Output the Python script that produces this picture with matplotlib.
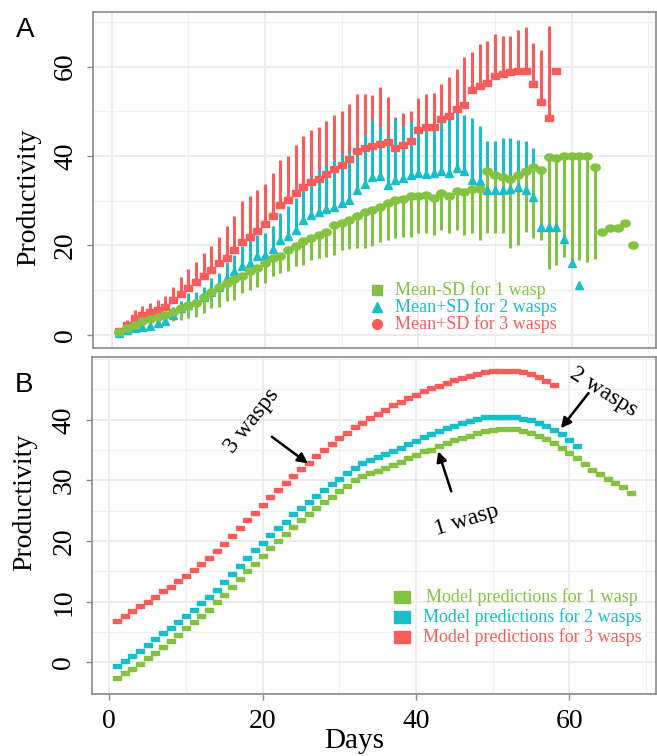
import matplotlib
matplotlib.use("Agg")
import matplotlib.pyplot as plt
import numpy as np
from matplotlib.lines import Line2D
from matplotlib.ticker import MultipleLocator

plt.rcParams['font.family'] = ['Liberation Serif', 'DejaVu Serif']

RED = '#FA5C5C'
CYAN = '#19BFC8'
GREEN = '#83C341'

# --- panel A: observed productivity, mean with a one-sided SD bar ---
days_3 = np.arange(1, 59)
mean_3 = [0.9, 2.2, 3.7, 4.5, 5.1, 5.6, 6.3, 7.8, 9.1, 10.4,
          11.9, 13.2, 14.6, 16.0, 17.3, 18.9, 20.7, 21.9, 23.2, 24.9,
          26.7, 29.0, 30.1, 31.7, 33.1, 34.2, 34.9, 36.1, 37.2, 38.0,
          39.3, 41.2, 41.8, 42.2, 42.8, 43.1, 41.9, 42.5, 43.3, 45.9,
          46.6, 46.6, 48.4, 48.9, 50.5, 51.5, 54.7, 55.7, 56.3, 58.0,
          58.4, 58.7, 59.0, 59.0, 56.1, 52.2, 48.5, 59.1]
upper_3 = [1.5, 3.4, 5.6, 6.5, 7.1, 7.8, 8.6, 10.8, 12.9, 14.7,
           16.4, 18.4, 19.8, 22.0, 24.3, 26.5, 29.9, 31.1, 32.5, 33.7,
           36.3, 39.2, 40.1, 42.4, 44.4, 45.9, 46.6, 47.8, 49.3, 50.1,
           51.7, 53.9, 54.0, 53.7, 55.5, 53.2, 48.7, 49.6, 50.0, 53.0,
           54.0, 54.1, 56.2, 57.6, 59.5, 62.2, 63.2, 65.0, 65.7, 67.2,
           66.8, 66.8, 68.3, 68.9, 65.3, 63.7, 69.2, 59.1]

days_2 = np.arange(1, 62)
mean_2 = [0.4, 1.1, 1.5, 1.7, 2.1, 2.6, 3.2, 4.5, 6.0, 6.7,
          7.5, 8.4, 9.6, 10.8, 12.8, 14.2, 15.3, 16.0, 17.7, 17.9,
          19.3, 21.3, 22.2, 23.5, 25.7, 26.9, 27.5, 28.1, 28.6, 29.6,
          30.1, 32.5, 33.8, 35.4, 35.6, 33.6, 34.7, 35.1, 35.8, 36.2,
          36.0, 36.3, 36.6, 36.2, 37.3, 36.6, 34.7, 34.5, 32.5, 32.5,
          32.5, 32.7, 33.0, 32.4, 30.9, 24.1, 24.1, 24.1, 21.5, 16.0,
          11.2]
upper_2 = [0.8, 1.5, 2.6, 3.2, 3.7, 4.3, 5.4, 6.3, 7.5, 9.3,
           9.7, 10.8, 12.7, 13.8, 16.4, 17.9, 19.8, 21.3, 22.4, 22.8,
           24.3, 27.2, 28.9, 30.7, 33.2, 35.4, 36.9, 37.9, 39.2, 40.5,
           41.0, 42.2, 44.8, 48.1, 46.6, 44.8, 48.3, 46.8, 47.8, 45.5,
           46.5, 46.8, 48.7, 48.9, 50.7, 49.3, 48.5, 46.8, 43.3, 43.3,
           44.0, 44.0, 43.5, 43.3, 41.8, 24.1, 24.1, 24.1, 21.5, 16.0,
           11.2]

days_1 = np.arange(1, 69)
mean_1 = [0.7, 1.5, 2.2, 3.0, 3.5, 4.1, 4.5, 5.2, 6.0, 6.7,
          7.2, 8.4, 9.6, 10.7, 11.6, 12.5, 13.2, 14.2, 14.9, 16.0,
          17.2, 17.7, 19.0, 19.8, 21.0, 21.6, 22.4, 23.1, 24.5, 25.0,
          25.7, 26.6, 27.5, 28.0, 28.7, 29.6, 30.2, 30.4, 31.0, 31.0,
          31.3, 30.6, 31.7, 31.1, 32.2, 31.9, 32.7, 32.7, 36.6, 35.8,
          35.4, 34.9, 35.8, 36.6, 37.5, 36.8, 39.8, 39.6, 40.1, 40.1,
          40.1, 40.1, 37.5, 23.1, 24.0, 24.0, 25.1, 20.0]
lower_1 = [0.7, 1.5, 1.1, 1.5, 1.5, 1.9, 2.2, 3.0, 3.4, 3.7,
           4.1, 4.9, 6.0, 6.3, 7.5, 7.8, 9.3, 10.1, 10.8, 11.7,
           13.1, 13.8, 14.2, 15.3, 15.7, 16.8, 17.2, 17.5, 17.9, 18.9,
           19.2, 19.4, 19.4, 19.9, 20.7, 21.3, 21.6, 22.0, 22.0, 22.8,
           22.8, 22.4, 23.5, 22.8, 23.5, 22.4, 22.8, 21.3, 22.8, 22.8,
           22.8, 19.4, 20.1, 23.1, 21.6, 21.3, 14.7, 15.7, 17.5, 15.7,
           16.8, 16.2, 16.9, 23.1, 24.0, 24.0, 25.1, 20.0]

# --- panel B: model predictions ---
model_3 = [6.9, 7.7, 8.5, 9.3, 10.0, 10.8, 11.7, 12.5, 13.4, 14.3,
           15.2, 16.3, 17.3, 18.4, 19.6, 20.8, 22.1, 23.4, 24.7, 26.0,
           27.2, 28.4, 29.6, 30.7, 31.9, 32.9, 34.0, 35.1, 36.0, 37.0,
           37.9, 38.8, 39.5, 40.3, 40.9, 41.6, 42.4, 43.0, 43.6, 44.1,
           44.7, 45.2, 45.6, 46.0, 46.5, 46.9, 47.3, 47.6, 47.8, 48.1,
           48.1, 48.1, 48.1, 47.8, 47.5, 47.1, 46.4, 45.8]
model_2 = [-0.6, 0.2, 1.0, 1.9, 2.9, 3.8, 4.8, 5.7, 6.7, 7.7,
           8.7, 9.8, 10.8, 12.0, 13.3, 14.6, 15.9, 17.2, 18.5, 19.7,
           21.0, 22.1, 23.2, 24.4, 25.5, 26.5, 27.5, 28.4, 29.4, 30.3,
           31.2, 32.0, 32.8, 33.3, 33.8, 34.3, 34.8, 35.4, 36.0, 36.5,
           37.1, 37.6, 38.1, 38.6, 39.0, 39.4, 39.8, 40.1, 40.4, 40.5,
           40.5, 40.5, 40.4, 40.1, 39.9, 39.4, 38.9, 38.3, 37.6, 36.7,
           35.7]
model_1 = [-2.6, -1.8, -1.0, -0.2, 0.7, 1.6, 2.6, 3.6, 4.6, 5.6,
           6.6, 7.6, 8.7, 9.9, 11.1, 12.4, 13.7, 15.1, 16.3, 17.6,
           18.8, 20.0, 21.2, 22.3, 23.4, 24.4, 25.4, 26.4, 27.3, 28.3,
           29.1, 30.0, 30.7, 31.2, 31.6, 32.0, 32.6, 33.1, 33.7, 34.2,
           34.8, 35.1, 35.7, 36.1, 36.6, 37.0, 37.3, 37.8, 38.1, 38.3,
           38.4, 38.5, 38.4, 38.2, 37.9, 37.3, 36.8, 36.1, 35.4, 34.6,
           33.7, 32.7, 31.8, 31.1, 30.3, 29.5, 28.9, 28.0]

legend_a = ["Mean-SD for 1 wasp", "Mean+SD for 2 wasps", "Mean+SD for 3 wasps"]
legend_b = ["Model predictions for 1 wasp", "Model predictions for 2 wasps",
            "Model predictions for 3 wasps"]
yticks_a = [0, 20, 40, 60]
yticks_b = [0, 10, 20, 30, 40]

W, H = 657, 756


def fx(x):
    return x / W


def fy(y):
    return 1 - y / H


# small flattened markers like the original
RECT = [(-1, -0.7), (1, -0.7), (1, 0.7), (-1, 0.7), (-1, -0.7)]
FLAT = [(-1, -0.55), (1, -0.55), (1, 0.55), (-1, 0.55), (-1, -0.55)]
t = np.linspace(0, 2 * np.pi, 40)
ELLIPSE = list(zip(np.cos(t), 0.75 * np.sin(t)))


def style(ax, yticks, yminor):
    ax.xaxis.set_major_locator(MultipleLocator(20))
    ax.xaxis.set_minor_locator(MultipleLocator(10))
    ax.set_yticks(yticks)
    ax.yaxis.set_minor_locator(MultipleLocator(yminor))
    ax.grid(which='major', color='#EBEBEB', lw=1.3)
    ax.grid(which='minor', color='#F0F0F0', lw=0.9)
    ax.set_axisbelow(True)
    for s in ax.spines.values():
        s.set_color('#8A8A8A')
        s.set_linewidth(1.2)
    ax.tick_params(which='minor', length=0)
    ax.tick_params(which='major', color='#8A8A8A', length=4, width=1,
                   labelsize=20, pad=7)
    for lab in ax.get_yticklabels():
        lab.set_rotation(90)
        lab.set_va('center')


fig = plt.figure(figsize=(6.57, 7.56), dpi=100)

# ---------------- panel A ----------------
axA = fig.add_axes([fx(93.3), fy(348.3), fx(656 - 93.3), (348.3 - 11.7) / H])
axA.vlines(days_3, mean_3, upper_3, color=RED, lw=2.2)
axA.vlines(days_2, mean_2, upper_2, color=CYAN, lw=2.2)
axA.vlines(days_1, lower_1, mean_1, color=GREEN, lw=2.2)
axA.plot(days_3, mean_3, ls='none', marker=RECT, ms=6.3, color=RED)
axA.plot(days_2, mean_2, ls='none', marker='^', ms=6.3, color=CYAN)
axA.plot(days_1, mean_1, ls='none', marker=ELLIPSE, ms=6.8, color=GREEN)
axA.set_xlim(-2.4, 71.0)
axA.set_ylim(-3.0, 72.3)
style(axA, yticks_a, 10)
axA.tick_params(axis='x', length=0, labelbottom=False)

# ---------------- panel B ----------------
axB = fig.add_axes([fx(91.7), fy(694), fx(656 - 91.7), (694 - 356.7) / H])
axB.plot(np.arange(1, len(model_3) + 1), model_3, ls='none', marker=FLAT, ms=5.4, color=RED)
axB.plot(np.arange(1, len(model_2) + 1), model_2, ls='none', marker=FLAT, ms=5.4, color=CYAN)
axB.plot(np.arange(1, len(model_1) + 1), model_1, ls='none', marker=FLAT, ms=5.4, color=GREEN)
axB.set_xlim(-2.3, 71.3)
axB.set_ylim(-5.2, 50.4)
style(axB, yticks_b, 5)

arrow = dict(arrowstyle='-|>', color='black', lw=1.8, mutation_scale=15,
             shrinkA=0, shrinkB=0)
axB.annotate('', xy=(25.9, 32.8), xytext=(21.2, 37.2), arrowprops=arrow)
axB.text(18.6, 39.8, '3 wasps', rotation=52, ha='center', va='center', fontsize=17)
axB.annotate('', xy=(58.9, 38.6), xytext=(62.5, 44.4), arrowprops=arrow)
axB.text(64.5, 44.6, '2 wasps', rotation=-32, ha='center', va='center', fontsize=17)
axB.annotate('', xy=(42.9, 34.8), xytext=(44.6, 28.2), arrowprops=arrow)
axB.text(46.6, 23.5, '1 wasp', rotation=17, ha='center', va='center', fontsize=17)

# legends drawn by hand to match the colored labels
for y, txt, mk, col in zip([290, 307.3, 324], legend_a, ['s', '^', 'o'],
                           [GREEN, CYAN, RED]):
    fig.add_artist(Line2D([fx(377)], [fy(y)], transform=fig.transFigure,
                          marker=mk, ms=7, color=col, ls='none'))
    fig.text(fx(395), fy(y), txt, color=col, fontsize=13, va='center')

for y, txt, col in zip([596.7, 616.7, 637.3], legend_b, [GREEN, CYAN, RED]):
    fig.add_artist(Line2D([fx(401.5)], [fy(y)], transform=fig.transFigure,
                          marker=RECT, ms=12, color=col, ls='none'))
    fig.text(fx(532), fy(y), txt, color=col, fontsize=13, va='center', ha='center')

# panel letters and axis titles
fig.text(fx(16), fy(37), 'A', fontsize=20, family='Liberation Sans')
fig.text(fx(15), fy(392), 'B', fontsize=20, family='Liberation Sans')
fig.text(fx(29), fy(197), 'Productivity', rotation=90, fontsize=20,
         ha='center', va='center')
fig.text(fx(25), fy(502), 'Productivity', rotation=90, fontsize=20,
         ha='center', va='center')
fig.text(fx(354), fy(748), 'Days', fontsize=21, ha='center', va='baseline')

fig.savefig('out.png', dpi=100)
